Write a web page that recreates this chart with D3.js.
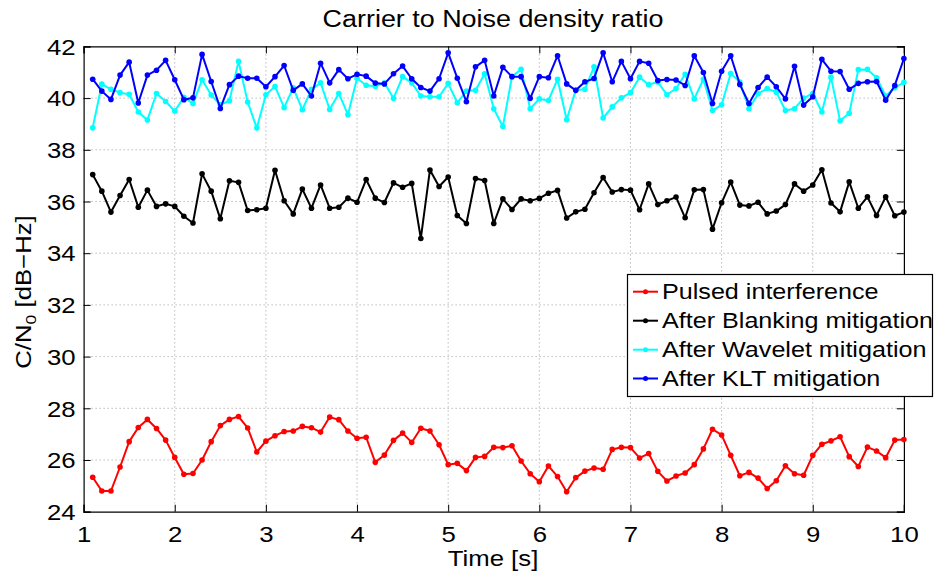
<!DOCTYPE html>
<html><head><meta charset="utf-8">
<script src="https://cdn.jsdelivr.net/npm/d3@7/dist/d3.min.js"></script>
<style>
body{margin:0;background:#fff;}
text{font-family:"Liberation Sans",Arial,Helvetica,sans-serif;fill:#000;}
</style>
</head><body>
<svg id="chart" width="936" height="572"></svg>
<script>
const time = [1.1,1.2,1.3,1.4,1.5,1.6,1.7,1.8,1.9,2.0,
2.1,2.2,2.3,2.4,2.5,2.6,2.7,2.8,2.9,3.0,
3.1,3.2,3.3,3.4,3.5,3.6,3.7,3.8,3.9,4.0,
4.1,4.2,4.3,4.4,4.5,4.6,4.7,4.8,4.9,5.0,
5.1,5.2,5.3,5.4,5.5,5.6,5.7,5.8,5.9,6.0,
6.1,6.2,6.3,6.4,6.5,6.6,6.7,6.8,6.9,7.0,
7.1,7.2,7.3,7.4,7.5,7.6,7.7,7.8,7.9,8.0,
8.1,8.2,8.3,8.4,8.5,8.6,8.7,8.8,8.9,9.0,
9.1,9.2,9.3,9.4,9.5,9.6,9.7,9.8,9.9,10.0];

const pulsed = [25.33,24.80,24.80,25.73,26.71,27.26,27.57,27.22,26.77,26.10,
25.45,25.48,26.00,26.71,27.33,27.57,27.68,27.24,26.31,26.73,
26.94,27.10,27.12,27.30,27.25,27.08,27.66,27.56,27.12,26.84,
26.88,25.91,26.19,26.76,27.04,26.68,27.23,27.12,26.59,25.82,
25.87,25.59,26.10,26.14,26.49,26.48,26.55,25.96,25.47,25.16,
25.77,25.36,24.77,25.32,25.57,25.69,25.64,26.41,26.49,26.48,
26.08,26.25,25.56,25.19,25.38,25.50,25.82,26.43,27.19,26.97,
26.18,25.39,25.52,25.30,24.90,25.20,25.78,25.47,25.41,26.18,
26.61,26.74,26.90,26.13,25.75,26.50,26.35,26.09,26.77,26.79];

const blanking = [37.04,36.40,35.59,36.23,36.85,35.78,36.44,35.81,35.91,35.81,
35.43,35.17,37.07,36.40,35.33,36.80,36.74,35.65,35.68,35.74,
37.21,36.03,35.52,36.48,35.74,36.64,35.74,35.78,36.13,35.97,
36.85,36.13,35.96,36.72,36.55,36.70,34.57,37.22,36.58,36.95,
35.46,35.15,36.89,36.81,35.15,36.10,35.69,36.10,36.03,36.12,
36.32,36.43,35.36,35.60,35.70,36.34,36.93,36.37,36.46,36.44,
35.68,36.68,35.88,36.03,36.17,35.37,36.45,36.46,34.93,35.95,
36.75,35.86,35.83,35.97,35.52,35.63,35.88,36.68,36.40,36.64,
37.23,35.94,35.60,36.76,35.74,36.18,35.46,36.18,35.45,35.59];

const wavelet = [38.85,40.54,40.34,40.21,40.15,39.46,39.15,40.18,39.87,39.50,
40.03,39.79,40.71,40.12,39.74,39.90,41.42,39.85,38.84,40.13,
40.45,39.63,40.40,39.55,40.34,40.59,39.56,40.18,39.36,40.77,
40.50,40.46,40.59,39.99,40.83,40.59,40.08,40.05,40.05,40.57,
39.82,40.27,40.30,40.94,39.59,38.90,40.83,41.11,39.59,39.97,
39.91,40.73,39.16,40.31,40.34,41.21,39.23,39.66,40.01,40.21,
40.81,40.52,40.62,40.13,40.37,40.92,39.97,40.73,39.52,39.74,
40.95,40.62,39.59,40.17,40.37,40.23,39.52,39.59,40.00,40.18,
39.46,40.81,39.12,39.41,41.10,41.11,40.79,40.08,40.40,40.61];

const klt = [40.73,40.27,39.95,40.89,41.39,39.81,40.89,41.08,41.46,40.71,
39.94,40.01,41.69,40.64,39.60,40.52,40.85,40.77,40.77,40.44,
40.83,41.26,40.30,40.55,40.08,41.35,40.59,41.10,40.75,40.92,
40.85,40.58,40.55,40.94,41.24,40.75,40.41,40.27,40.75,41.75,
40.77,39.86,41.21,41.46,40.08,41.19,40.83,40.83,39.99,40.83,
40.79,41.64,40.55,40.30,40.63,40.76,41.75,40.63,41.42,40.75,
41.42,41.35,40.68,40.72,40.70,40.49,41.64,40.99,39.79,41.04,
41.64,40.53,39.79,40.41,40.81,40.44,39.97,41.23,39.73,40.05,
41.50,41.04,41.03,40.34,40.57,40.63,40.64,39.92,40.49,41.53];

const seriesNames = ["Pulsed interference","After Blanking mitigation","After Wavelet mitigation","After KLT mitigation"];
const seriesColors = ["#ff0000","#000000","#00ffff","#0000ff"];
const xTicks = [1,2,3,4,5,6,7,8,9,10];
const yTicks = [24,26,28,30,32,34,36,38,40,42];
const titleText = "Carrier to Noise density ratio";
const xLabel = "Time [s]";

const series = [pulsed, blanking, wavelet, klt];
const SX = 1.17; // glyphs in the reference are wider than Arial

const svg = d3.select("#chart");
const L = 83.6, R = 903.9, T = 46.4, B = 511.7;
const x = d3.scaleLinear().domain([1,10]).range([L,R]);
const y = d3.scaleLinear().domain([24,42]).range([B,T]);

// grid
const grid = svg.append("g");
grid.selectAll("line.gx").data(xTicks.slice(1,-1)).join("line")
  .attr("x1",d=>x(d)).attr("x2",d=>x(d)).attr("y1",T).attr("y2",B)
  .attr("stroke","#9a9a9a").attr("stroke-width",1).attr("stroke-dasharray","1,3");
grid.selectAll("line.gy").data(yTicks.slice(1,-1)).join("line")
  .attr("y1",d=>y(d)).attr("y2",d=>y(d)).attr("x1",L).attr("x2",R)
  .attr("stroke","#9a9a9a").attr("stroke-width",1).attr("stroke-dasharray","1,3");

// axes
const tl = 7;
const ax = svg.append("g").attr("transform",`translate(0,${B})`)
  .call(d3.axisBottom(x).tickValues(xTicks).tickSize(-tl).tickFormat(d3.format("d")));
const axT = svg.append("g").attr("transform",`translate(0,${T})`)
  .call(d3.axisTop(x).tickValues(xTicks).tickSize(-tl).tickFormat(""));
const ay = svg.append("g").attr("transform",`translate(${L},0)`)
  .call(d3.axisLeft(y).tickValues(yTicks).tickSize(-tl).tickFormat(d3.format("d")));
const ayR = svg.append("g").attr("transform",`translate(${R},0)`)
  .call(d3.axisRight(y).tickValues(yTicks).tickSize(-tl).tickFormat(""));
[ax,axT,ay,ayR].forEach(g=>{
  g.select(".domain").attr("stroke","#000").attr("stroke-width",1.2);
  g.selectAll(".tick line").attr("stroke","#000").attr("stroke-width",1);
  g.selectAll(".tick text").attr("font-size",22).attr("font-family","Liberation Sans, Arial, sans-serif").attr("fill","#000");
});
ax.selectAll(".tick text").attr("x",0).attr("y",0).attr("dy",0)
  .attr("transform",`translate(0,30) scale(${SX},1)`);
ay.selectAll(".tick text").attr("x",0).attr("y",0).attr("dy","0.35em")
  .attr("transform",`translate(-8,0) scale(${SX},1)`);

// lines and markers
const line = d3.line().x((d,i)=>x(time[i])).y(d=>y(d));
series.forEach((s,k)=>{
  const g = svg.append("g");
  g.append("path").datum(s).attr("d",line).attr("fill","none")
    .attr("stroke",seriesColors[k]).attr("stroke-width",2).attr("stroke-linejoin","round");
  g.selectAll("circle").data(s).join("circle")
    .attr("cx",(d,i)=>x(time[i])).attr("cy",d=>y(d)).attr("r",2.8)
    .attr("fill",seriesColors[k]);
});

// title
svg.append("text").attr("transform",`translate(493,27) scale(${SX},1)`)
  .attr("text-anchor","middle").attr("font-size",23).text(titleText);
// x label
svg.append("text").attr("transform",`translate(493,566) scale(${SX},1)`)
  .attr("text-anchor","middle").attr("font-size",22).text(xLabel);
// y label
const yl = svg.append("text").attr("transform",`translate(31,292) rotate(-90) scale(${SX},1)`)
  .attr("text-anchor","middle").attr("font-size",22);
yl.append("tspan").text("C/N");
yl.append("tspan").attr("font-size",15).attr("dy",5).text("0");
yl.append("tspan").attr("dy",-5).text(" [dB\u2212Hz]");

// legend
const lg = svg.append("g");
lg.append("rect").attr("x",627.5).attr("y",274.5).attr("width",305).attr("height",122)
  .attr("fill","#fff").attr("stroke","#000").attr("stroke-width",1.2);
const rowY = [291.7,320.7,349.7,378.5];
seriesNames.forEach((n,k)=>{
  lg.append("line").attr("x1",633).attr("x2",658).attr("y1",rowY[k]).attr("y2",rowY[k])
    .attr("stroke",seriesColors[k]).attr("stroke-width",2);
  lg.append("circle").attr("cx",645.5).attr("cy",rowY[k]).attr("r",2.5).attr("fill",seriesColors[k]);
  lg.append("text").attr("transform",`translate(662,${rowY[k]+7.5}) scale(${SX},1)`)
    .attr("font-size",21.5).text(n);
});
</script>
</body></html>
